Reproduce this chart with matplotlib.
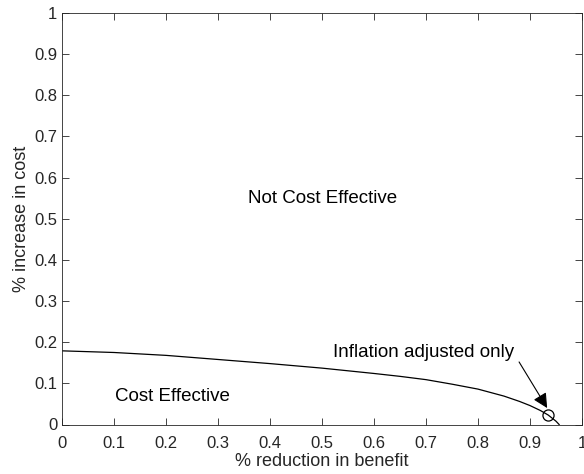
import matplotlib
matplotlib.use("Agg")
import matplotlib.pyplot as plt

plt.rcParams["font.family"] = ["Liberation Sans", "DejaVu Sans"]

# break-even curve
benefit_cut = [0.0, 0.1, 0.2, 0.3, 0.4, 0.5, 0.6, 0.65, 0.7, 0.75, 0.8, 0.85, 0.88, 0.9, 0.92, 0.935, 0.95, 0.956]
cost_rise = [0.179, 0.175, 0.168, 0.158, 0.148, 0.137, 0.124, 0.117, 0.109, 0.098, 0.086, 0.069, 0.056, 0.046, 0.034, 0.023, 0.008, 0.0]

# single marked case
point_x = 0.935
point_y = 0.023

ticks = [0, 0.1, 0.2, 0.3, 0.4, 0.5, 0.6, 0.7, 0.8, 0.9, 1]
tick_labels = ["0", "0.1", "0.2", "0.3", "0.4", "0.5", "0.6", "0.7", "0.8", "0.9", "1"]

fig = plt.figure(figsize=(5.84, 4.74), dpi=100)
ax = fig.add_axes([62 / 584, 49.5 / 474, 520 / 584, 411.5 / 474])

ax.plot(benefit_cut, cost_rise, color="black", linewidth=0.9)
ax.plot(point_x, point_y, "o", markerfacecolor="none", markeredgecolor="black",
        markersize=8, markeredgewidth=0.9)

ax.annotate("", xy=(0.933, 0.040), xytext=(0.879, 0.152),
            arrowprops=dict(arrowstyle="-|>", color="black", lw=0.8,
                            mutation_scale=22, shrinkA=0, shrinkB=0))
ax.text(0.521, 0.176, "Inflation adjusted only", fontsize=13.5, ha="left", va="center")
ax.text(0.501, 0.55, "Not Cost Effective", fontsize=13.5, ha="center", va="center")
ax.text(0.102, 0.069, "Cost Effective", fontsize=13.5, ha="left", va="center")

ax.set_xlim(0, 1)
ax.set_ylim(0, 1)
ax.set_xticks(ticks)
ax.set_xticklabels(tick_labels)
ax.set_yticks(ticks)
ax.set_yticklabels(tick_labels)
ax.tick_params(direction="in", top=True, right=True, labelsize=12,
               colors="#262626", length=5, width=0.6)
ax.tick_params(axis="x", pad=8)
for s in ax.spines.values():
    s.set_color("#262626")
    s.set_linewidth(0.6)

ax.set_xlabel("% reduction in benefit", fontsize=13, color="#262626", labelpad=2)
ax.set_ylabel("% increase in cost", fontsize=13, color="#262626", labelpad=3)

fig.savefig("out.png", dpi=100)
